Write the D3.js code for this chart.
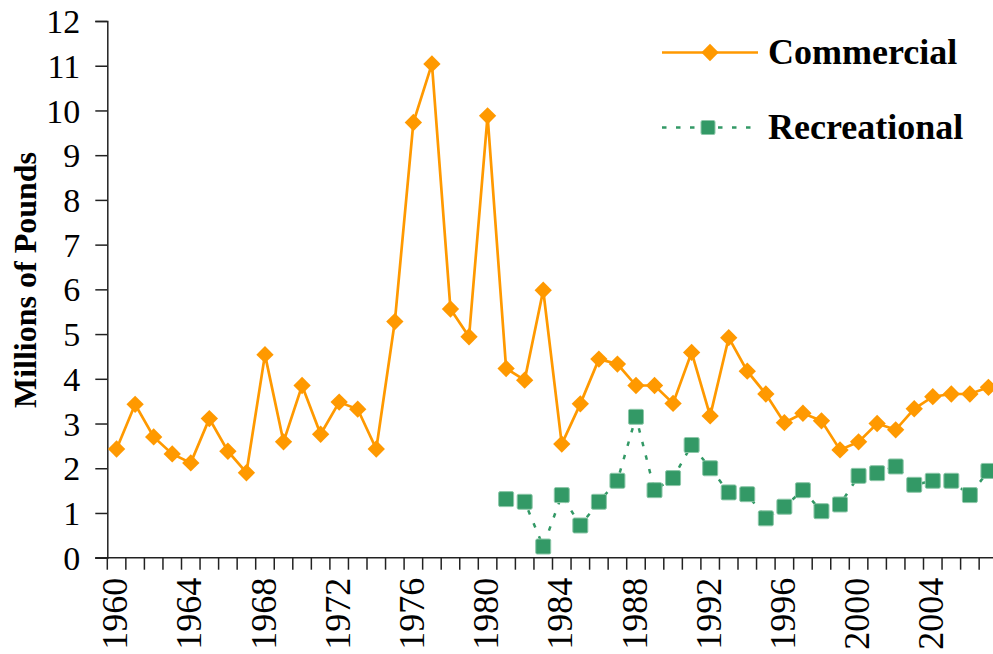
<!DOCTYPE html>
<html>
<head>
<meta charset="utf-8">
<script src="https://cdn.jsdelivr.net/npm/d3@7"></script>
<style>
  html, body { margin: 0; padding: 0; background: #fff; }
  svg { display: block; }
  text { font-family: "Liberation Serif", "Times New Roman", serif; fill: #000; }
</style>
</head>
<body>
<div id="chart"></div>
<script>
'use strict';

var years = ['1960', '1961', '1962', '1963', '1964', '1965', '1966', '1967', '1968', '1969',
  '1970', '1971', '1972', '1973', '1974', '1975', '1976', '1977', '1978', '1979',
  '1980', '1981', '1982', '1983', '1984', '1985', '1986', '1987', '1988', '1989',
  '1990', '1991', '1992', '1993', '1994', '1995', '1996', '1997', '1998', '1999',
  '2000', '2001', '2002', '2003', '2004', '2005', '2006', '2007'];

// millions of pounds
var commercial = [2.43, 3.43, 2.70, 2.32, 2.12, 3.11, 2.38, 1.90, 4.54, 2.59,
  3.85, 2.76, 3.48, 3.32, 2.43, 5.28, 9.73, 11.04, 5.56, 4.94,
  9.88, 4.23, 3.97, 5.98, 2.54, 3.44, 4.44, 4.33, 3.85, 3.85,
  3.45, 4.59, 3.17, 4.92, 4.17, 3.66, 3.02, 3.23, 3.06, 2.41,
  2.59, 3.00, 2.86, 3.33, 3.60, 3.66, 3.66, 3.81];

// no recreational estimates before 1981
var recreational = [null, null, null, null, null, null, null, null, null, null,
  null, null, null, null, null, null, null, null, null, null,
  null, 1.31, 1.25, 0.25, 1.40, 0.72, 1.25, 1.72, 3.15, 1.51,
  1.78, 2.52, 2.00, 1.46, 1.42, 0.88, 1.14, 1.51, 1.04, 1.19,
  1.83, 1.89, 2.04, 1.63, 1.72, 1.72, 1.40, 1.94];

var yTicks = [0, 1, 2, 3, 4, 5, 6, 7, 8, 9, 10, 11, 12];
var xTickLabels = ['1960', '1964', '1968', '1972', '1976', '1980', '1984', '1988', '1992', '1996', '2000', '2004'];
var seriesNames = ['Commercial', 'Recreational'];

(function () {
  var width = 993,
    height = 654,
    plotLeft = 107.3,
    plotRight = 997.7,
    plotTop = 21,
    plotBottom = 557.7,
    orange = '#FF9900',
    green = '#339966';

  var svg = d3.select('#chart').append('svg')
    .attr('width', width)
    .attr('height', height);

  var x = d3.scaleBand()
    .domain(years)
    .range([plotLeft, plotRight]);

  var y = d3.scaleLinear()
    .domain([0, 12])
    .range([plotBottom, plotTop]);

  // y axis
  var yAxis = d3.axisLeft(y)
    .tickValues(yTicks)
    .tickSize(12)
    .tickPadding(15)
    .tickFormat(d3.format('d'));

  var yg = svg.append('g')
    .attr('transform', 'translate(' + plotLeft + ',0)')
    .call(yAxis);
  yg.select('.domain').attr('stroke', '#222').attr('stroke-width', 1.5);
  yg.selectAll('.tick line').attr('stroke', '#222').attr('stroke-width', 1.5);
  yg.selectAll('.tick text')
    .style('font-family', '"Liberation Serif", "Times New Roman", serif')
    .style('font-size', '34px')
    .attr('dy', '0.34em');

  // x axis: ticks sit between the categories
  svg.append('line')
    .attr('x1', plotLeft - 12)
    .attr('x2', width)
    .attr('y1', plotBottom)
    .attr('y2', plotBottom)
    .attr('stroke', '#222')
    .attr('stroke-width', 1.5);

  svg.append('g').selectAll('line')
    .data(years)
    .enter().append('line')
    .attr('x1', function (d) { return x(d); })
    .attr('x2', function (d) { return x(d); })
    .attr('y1', plotBottom)
    .attr('y2', plotBottom + 12)
    .attr('stroke', '#222')
    .attr('stroke-width', 1.5);

  svg.append('g').selectAll('text')
    .data(xTickLabels)
    .enter().append('text')
    .attr('transform', function (d) {
      return 'translate(' + (x(d) + x.bandwidth() / 2 - 2) + ',' + (plotBottom + 20) + ') rotate(-90)';
    })
    .attr('text-anchor', 'end')
    .attr('dy', '0.35em')
    .style('font-size', '36px')
    .text(function (d) { return d; });

  // axis title
  svg.append('text')
    .attr('transform', 'translate(25,280) rotate(-90)')
    .attr('text-anchor', 'middle')
    .attr('dy', '0.35em')
    .style('font-size', '32px')
    .style('font-weight', 'bold')
    .text('Millions of Pounds');

  var cx = function (d, i) { return x(years[i]) + x.bandwidth() / 2; };

  var line = d3.line()
    .defined(function (d) { return d !== null; })
    .x(cx)
    .y(function (d) { return y(d); });

  var diamond = d3.symbol().type(d3.symbolSquare).size(150);

  // Recreational
  svg.append('path')
    .datum(recreational)
    .attr('fill', 'none')
    .attr('stroke', green)
    .attr('stroke-width', 2.5)
    .attr('stroke-dasharray', '4.5,9.5')
    .attr('d', line);

  svg.append('g').selectAll('rect')
    .data(recreational.map(function (v, i) { return {v: v, i: i}; }).filter(function (d) { return d.v !== null; }))
    .enter().append('rect')
    .attr('x', function (d) { return cx(null, d.i) - 7.5; })
    .attr('y', function (d) { return y(d.v) - 7.5; })
    .attr('width', 15)
    .attr('height', 15)
    .attr('rx', 1.5)
    .attr('fill', green)
    .attr('stroke', '#8cc7a8')
    .attr('stroke-width', 1);

  // Commercial
  svg.append('path')
    .datum(commercial)
    .attr('fill', 'none')
    .attr('stroke', orange)
    .attr('stroke-width', 2.7)
    .attr('d', line);

  svg.append('g').selectAll('path')
    .data(commercial)
    .enter().append('path')
    .attr('d', diamond)
    .attr('transform', function (d, i) {
      return 'translate(' + cx(d, i) + ',' + y(d) + ') rotate(45)';
    })
    .attr('fill', orange);

  // Legend
  var legend = svg.append('g');

  legend.append('line')
    .attr('x1', 662).attr('x2', 758)
    .attr('y1', 52.5).attr('y2', 52.5)
    .attr('stroke', orange)
    .attr('stroke-width', 2.5);
  legend.append('path')
    .attr('d', diamond)
    .attr('transform', 'translate(710,52.5) rotate(45)')
    .attr('fill', orange);

  legend.append('line')
    .attr('x1', 662).attr('x2', 755)
    .attr('y1', 127.5).attr('y2', 127.5)
    .attr('stroke', green)
    .attr('stroke-width', 2.5)
    .attr('stroke-dasharray', '4.5,9.5');
  legend.append('rect')
    .attr('x', 701).attr('y', 120.5)
    .attr('width', 14).attr('height', 14)
    .attr('rx', 1.5)
    .attr('fill', green)
    .attr('stroke', '#8cc7a8')
    .attr('stroke-width', 1);

  legend.selectAll('text')
    .data(seriesNames)
    .enter().append('text')
    .attr('x', 768)
    .attr('y', function (d, i) { return 63.5 + i * 75.5; })
    .style('font-size', '36px')
    .style('font-weight', 'bold')
    .text(function (d) { return d; });
})();
</script>
</body>
</html>
